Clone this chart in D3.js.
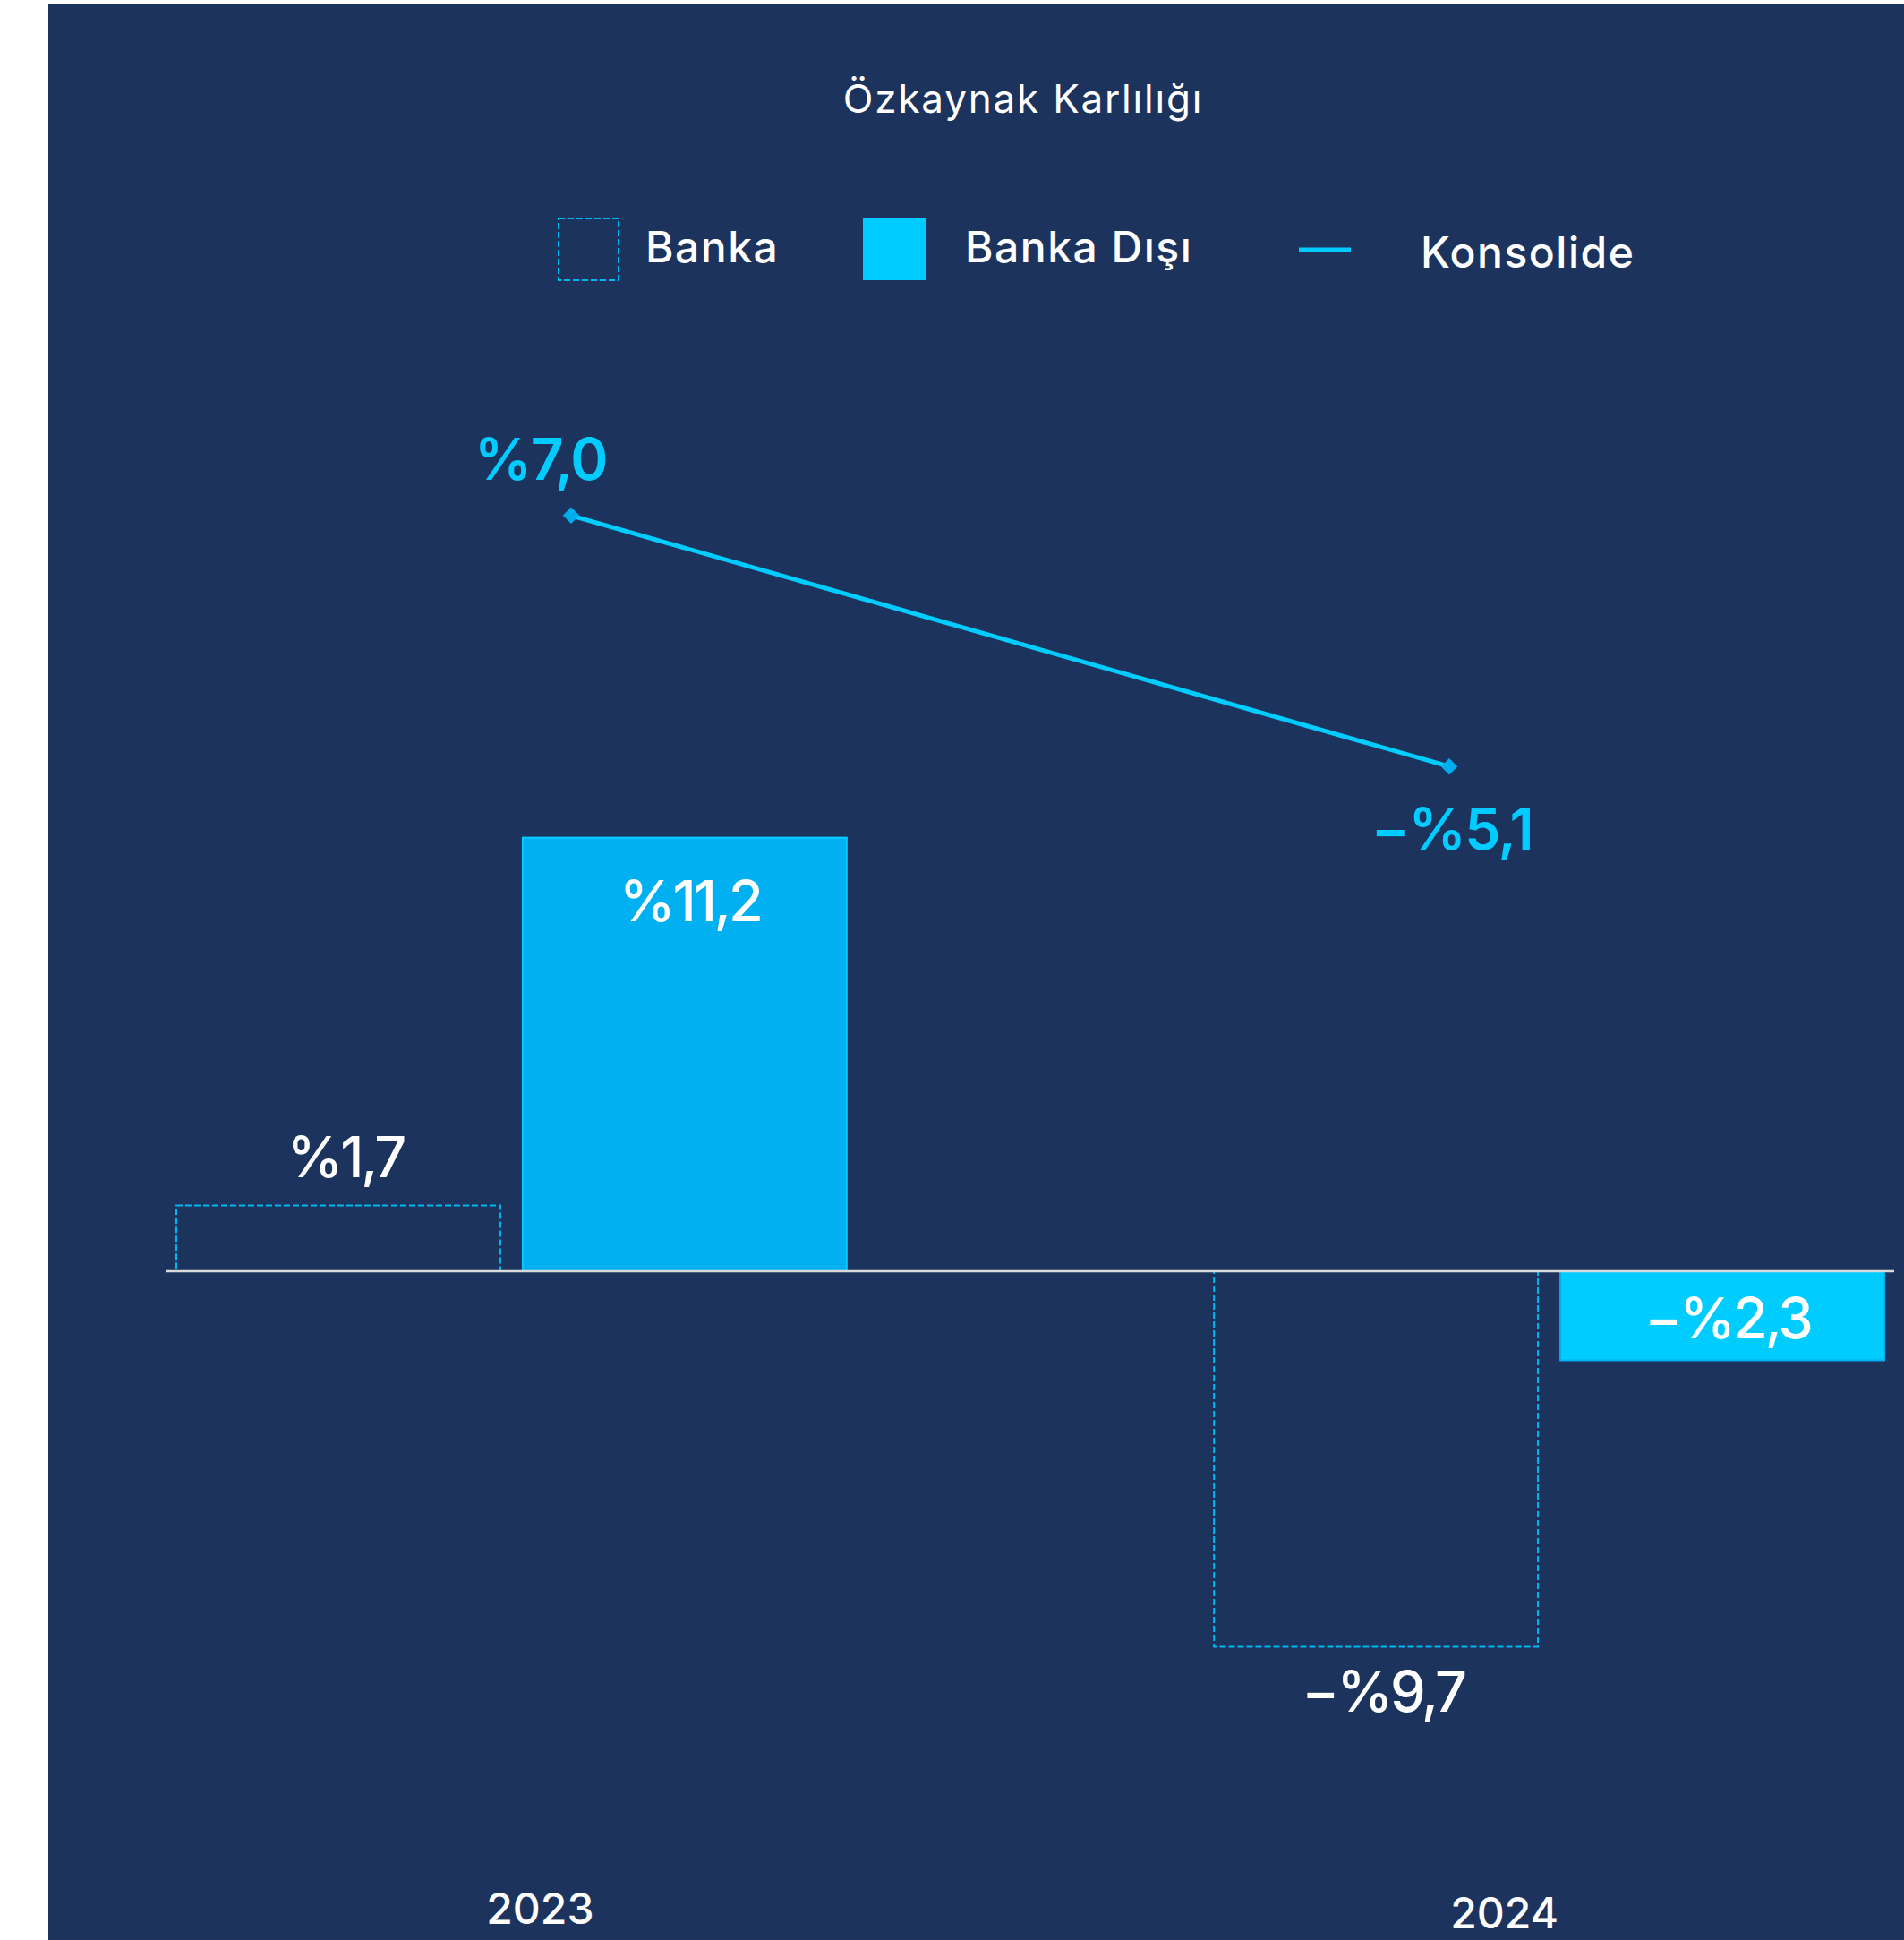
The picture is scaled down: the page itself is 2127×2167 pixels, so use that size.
<!DOCTYPE html>
<html lang="tr">
<head>
<meta charset="utf-8">
<script src="https://cdn.jsdelivr.net/npm/d3@7/dist/d3.min.js"></script>
<style>
  html, body { margin: 0; padding: 0; background: #ffffff; }
  svg { display: block; }
  text { font-family: Inter, "Open Sans", sans-serif; }
</style>
</head>
<body>
<svg id="chart" width="2127" height="2167"></svg>
<script>
// Özkaynak karlılığı (%), iki yıl
const years = ["2023", "2024"];
const barSeries = ["Banka", "Banka Dışı"];
const bankaValues = [1.7, -9.7];
const bankaDisiValues = [11.2, -2.3];
const konsolideValues = [7.0, -5.1];
const chartTitle = "Özkaynak Karlılığı";
const legendLabels = ["Banka", "Banka Dışı", "Konsolide"];

const fmt = v => (v < 0 ? "−" : "") + "%" + Math.abs(v).toFixed(1).replace(".", ",");

const svg = d3.select("#chart");
const W = 2127, H = 2167;

// panel background
svg.append("rect").attr("x", 54).attr("y", 4).attr("width", W - 54).attr("height", H - 4)
  .attr("fill", "#1c335e");

// scales
const x0 = d3.scaleBand().domain(years).range([197, 2105]).paddingInner(0.354).paddingOuter(0);
const x1 = d3.scaleBand().domain(barSeries).range([0, x0.bandwidth()]).paddingInner(0.0646);
const y = d3.scaleLinear().domain([-12, 14]).range([1939, 814.5]);
const yLine = d3.scaleLinear().domain([-10, 10]).range([969.7, 506.3]);
const xLine = d3.scalePoint().domain(years).range([638, 1619]);

// title
svg.append("text").attr("x", 1143).attr("y", 126).attr("text-anchor", "middle")
  .attr("fill", "#ffffff").attr("font-size", 44).attr("letter-spacing", 1.8).attr("font-weight", 400)
  .text(chartTitle);

// legend
const lg = svg.append("g").attr("font-size", 48).attr("font-weight", 500).attr("letter-spacing", 1.5);
lg.append("rect").attr("x", 624).attr("y", 244).attr("width", 67).attr("height", 69)
  .attr("fill", "none").attr("stroke", "#00b8f0").attr("stroke-width", 2).attr("stroke-dasharray", "7,3");
lg.append("text").attr("x", 721).attr("y", 293).attr("fill", "#fff").text(legendLabels[0]);
lg.append("rect").attr("x", 964).attr("y", 243).attr("width", 71).attr("height", 70).attr("fill", "#00ccff");
lg.append("text").attr("x", 1078).attr("y", 293).attr("fill", "#fff").text(legendLabels[1]);
lg.append("line").attr("x1", 1451).attr("x2", 1509).attr("y1", 279).attr("y2", 279)
  .attr("stroke", "#00ccff").attr("stroke-width", 5);
lg.append("text").attr("x", 1587).attr("y", 299).attr("fill", "#fff").text(legendLabels[2]);

// bars
const rows = years.map((yr, i) => ({ year: yr, i, Banka: bankaValues[i], "Banka Dışı": bankaDisiValues[i] }));
const disiFill = { "2023": "#00b0f0", "2024": "#00ccff" };
const disiStroke = { "2023": "#00ccff", "2024": "#00b0f0" };

const groups = svg.append("g").selectAll("g").data(rows).join("g")
  .attr("transform", d => `translate(${x0(d.year)},0)`);

// Banka: dashed outline bars
groups.append("rect")
  .attr("x", x1("Banka"))
  .attr("y", d => y(Math.max(0, d.Banka)))
  .attr("width", x1.bandwidth())
  .attr("height", d => Math.abs(y(d.Banka) - y(0)))
  .attr("fill", "none").attr("stroke", "#00b8f0").attr("stroke-width", 2)
  .attr("stroke-dasharray", "7,3");

// Banka Dışı: solid bars
groups.append("rect")
  .attr("x", x1("Banka Dışı"))
  .attr("y", d => y(Math.max(0, d["Banka Dışı"])))
  .attr("width", x1.bandwidth())
  .attr("height", d => Math.abs(y(d["Banka Dışı"]) - y(0)))
  .attr("fill", d => disiFill[d.year]).attr("stroke", d => disiStroke[d.year]).attr("stroke-width", 2);

// zero line
svg.append("line").attr("x1", 185).attr("x2", 2116).attr("y1", y(0)).attr("y2", y(0))
  .attr("stroke", "#d9d9d9").attr("stroke-width", 2.5);

// bar value labels
const valueFont = g => g.attr("text-anchor", "middle").attr("fill", "#fff")
  .attr("font-size", 63).attr("font-weight", 500).attr("letter-spacing", -3);
groups.append("text")
  .attr("x", x1("Banka") + x1.bandwidth() / 2 + 8)
  .attr("y", d => d.Banka >= 0 ? y(d.Banka) - 31 : y(d.Banka) + 72)
  .call(valueFont)
  .text(d => fmt(d.Banka));
groups.append("text")
  .attr("x", x1("Banka Dışı") + x1.bandwidth() / 2 + 6)
  .attr("y", d => d["Banka Dışı"] >= 0 ? y(d["Banka Dışı"]) + 93 : y(0) + 75)
  .call(valueFont)
  .text(d => fmt(d["Banka Dışı"]));

// Konsolide line
const linePts = years.map((yr, i) => ({ year: yr, v: konsolideValues[i] }));
svg.append("path").datum(linePts)
  .attr("d", d3.line().x(d => xLine(d.year)).y(d => yLine(d.v)))
  .attr("fill", "none").attr("stroke", "#00ccff").attr("stroke-width", 5);
svg.append("g").selectAll("path").data(linePts).join("path")
  .attr("d", d3.symbol(d3.symbolSquare, 170)())
  .attr("transform", d => `translate(${xLine(d.year)},${yLine(d.v)}) rotate(45)`)
  .attr("fill", "#00aeef");
svg.append("g").selectAll("text").data(linePts).join("text")
  .attr("x", (d, i) => xLine(d.year) + (i === 0 ? -34 : 3))
  .attr("y", d => d.v >= 0 ? yLine(d.v) - 40 : yLine(d.v) + 93)
  .attr("text-anchor", "middle").attr("fill", "#00ccff").attr("font-size", 64)
  .attr("font-weight", 600).attr("letter-spacing", -1.5)
  .text(d => fmt(d.v));

// year labels
const yearNudge = [{ dx: 32, y: 2149 }, { dx: -50, y: 2154 }];
svg.append("g").selectAll("text").data(years).join("text")
  .attr("x", (d, i) => x0(d) + x0.bandwidth() / 2 + yearNudge[i].dx)
  .attr("y", (d, i) => yearNudge[i].y)
  .attr("text-anchor", "middle").attr("fill", "#fff").attr("font-size", 48).attr("font-weight", 500)
  .text(d => d);
</script>
</body>
</html>
